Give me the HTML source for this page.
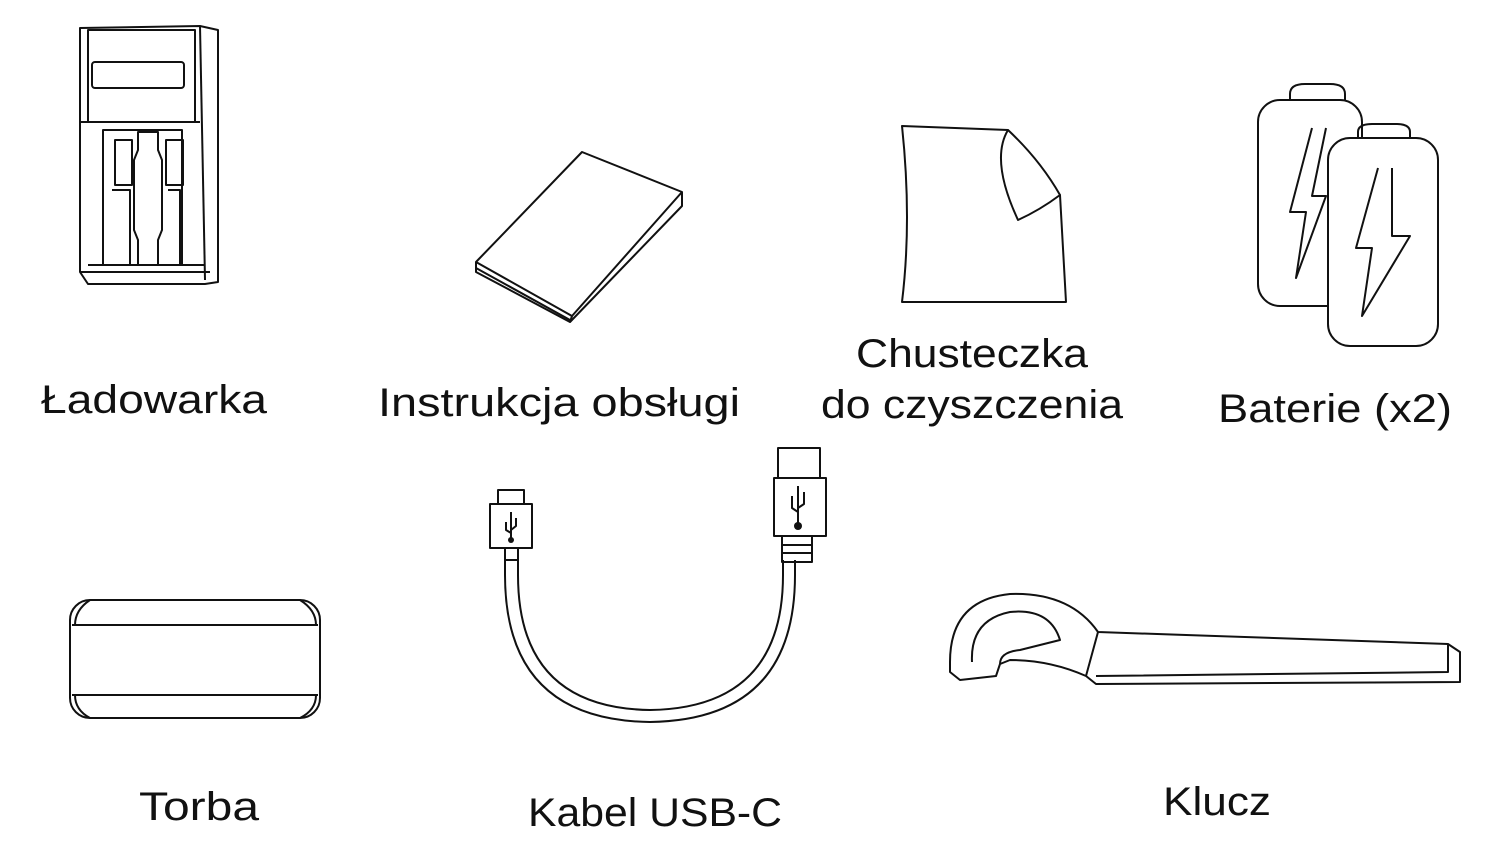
<!DOCTYPE html>
<html><head><meta charset="utf-8"><style>
html,body{margin:0;padding:0;background:#fff;}
svg{display:block;}
text{font-family:"Liberation Sans","DejaVu Sans",sans-serif;font-size:40px;fill:#111;}
</style></head><body>
<svg width="1500" height="860" viewBox="0 0 1500 860" xmlns="http://www.w3.org/2000/svg">
<g fill="none" stroke="#111" stroke-width="2" stroke-linejoin="round">
<!-- Charger -->
<path d="M80 28 L200 26 L218 30 L218 282 L205 284 L88 284 L80 272 Z"/>
<path d="M200 26 L205 280"/>
<path d="M88 30 L195 30 L195 122 L88 122 Z"/>
<rect x="92" y="62" width="92" height="26" rx="3"/>
<path d="M80 122 L200 122 M88 265 L205 265 M80 272 L210 272"/>
<path d="M103 130 L182 130 L182 265 L103 265 Z"/>
<path d="M115 140 L132 140 L132 185 L115 185 Z M166 140 L183 140 L183 185 L166 185 Z"/>
<path d="M138 132 L158 132 L158 150 L162 160 L162 230 L158 240 L158 265 L138 265 L138 240 L134 230 L134 160 L138 150 Z"/>
<path d="M112 190 L130 190 L130 265 M168 190 L180 190 L180 265"/>
<!-- Manual -->
<path d="M476 262 L582 152 L682 192 L572 316 Z"/>
<path d="M476 262 L476 272 L570 322 L682 206 L682 192"/>
<path d="M476 268 L570 320"/>
<path d="M572 316 L570 322"/>
<!-- Cloth -->
<path d="M902 126 L1008 130 Q990 160 1018 220 Q1040 210 1060 195 L1066 302 L902 302 Q912 220 902 126 Z"/>
<path d="M1008 130 Q1040 160 1060 195"/>
<!-- Batteries -->
<path d="M1290 100 L1290 94 Q1290 84 1305 84 L1330 84 Q1345 84 1345 94 L1345 100"/>
<rect x="1258" y="100" width="104" height="206" rx="22"/>
<path d="M1312 128 L1290 212 L1306 212 L1296 278 L1326 196 L1312 196 L1326 128"/>
<path d="M1358 138 L1358 132 Q1358 124 1372 124 L1396 124 Q1410 124 1410 132 L1410 138"/>
<rect x="1328" y="138" width="110" height="208" rx="22" fill="#fff"/>
<path d="M1378 168 L1356 248 L1372 248 L1362 316 L1410 236 L1392 236 L1392 168"/>
<!-- Bag -->
<rect x="70" y="600" width="250" height="118" rx="20"/>
<path d="M72 625 L318 625 M72 695 L318 695 M90 600 Q75 610 75 625 M300 600 Q316 610 316 625 M90 718 Q75 710 75 695 M300 718 Q316 710 316 695"/>
<!-- Cable -->
<rect x="498" y="490" width="26" height="14"/>
<rect x="490" y="504" width="42" height="44"/>
<path d="M505 548 L505 560 L518 560 L518 548 M505 560 L505 575 Q505 720 650 722 Q795 720 795 575 L795 560 M518 560 L518 575 Q518 708 650 710 Q783 708 783 575 L783 560"/>
<rect x="778" y="448" width="42" height="30"/>
<rect x="774" y="478" width="52" height="58"/>
<path d="M782 536 L782 562 L812 562 L812 536 M782 545 L812 545 M782 553 L812 553"/>
<path d="M511 512 L511 540 M798 486 L798 526"/>
<path d="M506 522 L506 530 L511 533 M516 518 L516 526 L511 530 M792 496 L792 508 L798 512 M804 492 L804 504 L798 508"/>
<!-- Wrench -->
<path d="M950 662 Q950 600 1010 594 Q1070 592 1098 632 L1448 644 L1460 652 L1460 682 L1096 684 L1086 676 Q1050 660 1010 660 L1000 664 L996 676 L960 680 L950 672 Z"/>
<path d="M972 662 Q970 620 1010 612 Q1050 608 1060 640 L1020 650 Q1000 652 1000 664"/>
<path d="M1098 632 L1086 676 M1448 644 L1448 672 L1096 676"/>
</g>
<g fill="#111"><circle cx="511" cy="540" r="3"/><circle cx="798" cy="526" r="4"/></g>
<text x="41" y="413" textLength="226" lengthAdjust="spacingAndGlyphs">Ładowarka</text>
<text x="378" y="416" textLength="362" lengthAdjust="spacingAndGlyphs">Instrukcja obsługi</text>
<text x="856" y="367" textLength="232" lengthAdjust="spacingAndGlyphs">Chusteczka</text>
<text x="821" y="418" textLength="302" lengthAdjust="spacingAndGlyphs">do czyszczenia</text>
<text x="1218" y="422" textLength="234" lengthAdjust="spacingAndGlyphs">Baterie (x2)</text>
<text x="139" y="820" textLength="120" lengthAdjust="spacingAndGlyphs">Torba</text>
<text x="528" y="826" textLength="254" lengthAdjust="spacingAndGlyphs">Kabel USB-C</text>
<text x="1163" y="815" textLength="108" lengthAdjust="spacingAndGlyphs">Klucz</text>
</svg>
</body></html>
